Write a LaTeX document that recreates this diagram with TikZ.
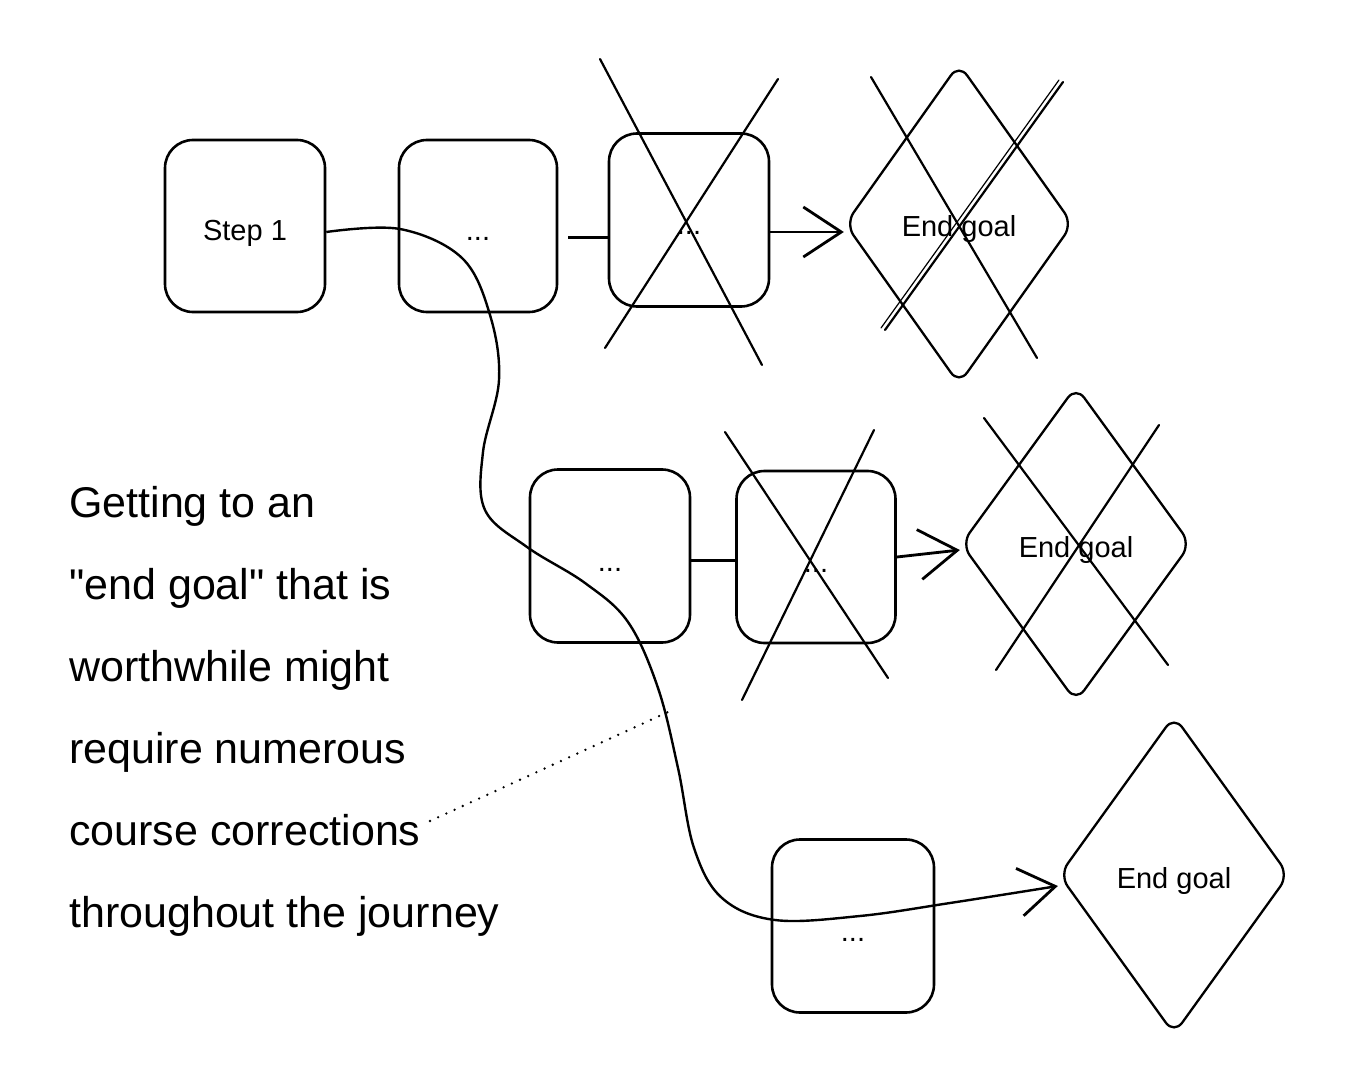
\documentclass[tikz,border=0pt]{standalone}
\usepackage{fontspec}
\setmainfont{Liberation Sans}
\newfontfamily\notefont{Liberation Sans}[Ligatures=NoCommon]
\usetikzlibrary{shapes.geometric,arrows.meta}
\tikzset{
  stepbox/.style={draw, line width=2.6pt, rounded corners=28pt, inner sep=0pt,
    text height=30pt, text depth=0pt, font=\fontsize{29}{34}\selectfont},
  goal/.style={draw, diamond, line width=2.3pt, rounded corners=14pt, inner sep=0pt,
    text height=26pt, text depth=0pt, font=\fontsize{29}{34}\selectfont},
  crossline/.style={line width=2.2pt, line cap=round},
  link/.style={line width=3pt},
  arrowlink/.style={line width=2.8pt, -{Straight Barb[length=38pt,width=50pt,line width=2.8pt]}},
  pathcurve/.style={line width=2.4pt, -{Straight Barb[length=36pt,width=48pt,line width=2.8pt]}},
  dotline/.style={line width=2.6pt, line cap=round, dash pattern=on 0pt off 9pt},
  notetext/.style={align=left, inner sep=0pt, anchor=north west,
    font=\notefont\fontsize{43}{82}\selectfont}
}
\begin{document}
\begin{tikzpicture}[x=1pt,y=-1pt]
\useasboundingbox[fill=white] (0,0) rectangle (1347,1075);

% row 1
\node[stepbox, minimum width=160pt, minimum height=172pt] (b1) at (245,226) {Step 1};
\node[stepbox, minimum width=158pt, minimum height=172pt] (b2) at (478,226) {...};
\node[stepbox, minimum width=160pt, minimum height=173pt] (b3) at (689,220) {...};
\node[goal, minimum width=228pt, minimum height=321pt] (g1) at (959,224) {End goal};

% row 2
\node[stepbox, minimum width=160pt, minimum height=173pt] (b4) at (610,556) {...};
\node[stepbox, minimum width=159pt, minimum height=172pt] (b5) at (816,557) {...};
\node[goal, minimum width=230pt, minimum height=316pt] (g2) at (1076,544) {End goal};

% row 3
\node[stepbox, minimum width=162pt, minimum height=173pt] (b6) at (853,926) {...};
\node[goal, minimum width=230pt, minimum height=319pt] (g3) at (1174,875) {End goal};

% connectors row 1
\draw[link] ([xshift=10pt,yshift=-12pt]b2.east) -- ([yshift=-18pt]b3.west);
\draw[arrowlink] ([yshift=-12pt]b3.east) -- ([yshift=-8pt]g1.west);

% connectors row 2
\draw[link] ([yshift=-4pt]b4.east) -- ([yshift=-3pt]b5.west);
\draw[arrowlink] (b5.east) -- ([yshift=-6pt]g2.west);

% crosses
\draw[crossline] (600,59) -- (762,365);
\draw[crossline] (605,348) -- (778,79);
\draw[crossline] (871,77) -- (1037,358);
\draw[crossline] (1063,82) -- (885,330);
\draw[crossline, line width=1.2pt] (1059,80) -- (881,328);
\draw[crossline] (725,432) -- (888,678);
\draw[crossline] (874,430) -- (742,700);
\draw[crossline] (984,418) -- (1168,665);
\draw[crossline] (1159,425) -- (996,670);

% course-correcting path
\coordinate (cs) at ([yshift=-6pt]b1.east);
\coordinate (ce) at ([yshift=-11pt]g3.west);
\draw[pathcurve] plot[smooth, tension=0.6] coordinates {
  (cs) (400,229) (462,258) (490,315) (499,380) (483,452) (485,510)
  (527,547) (585,583) (628,622) (658,688) (678,768) (694,848)
  (722,898) (775,920) (860,916) (950,903) (ce)};

% note
\node[notetext] (note) at (69,486) {Getting to an\\"end goal" that is\\worthwhile might\\require numerous\\course corrections\\throughout the journey};
\coordinate (dstart) at (430,821);
\coordinate (dend) at (668,712);
\draw[dotline] (dstart) -- (dend);
\end{tikzpicture}
\end{document}
